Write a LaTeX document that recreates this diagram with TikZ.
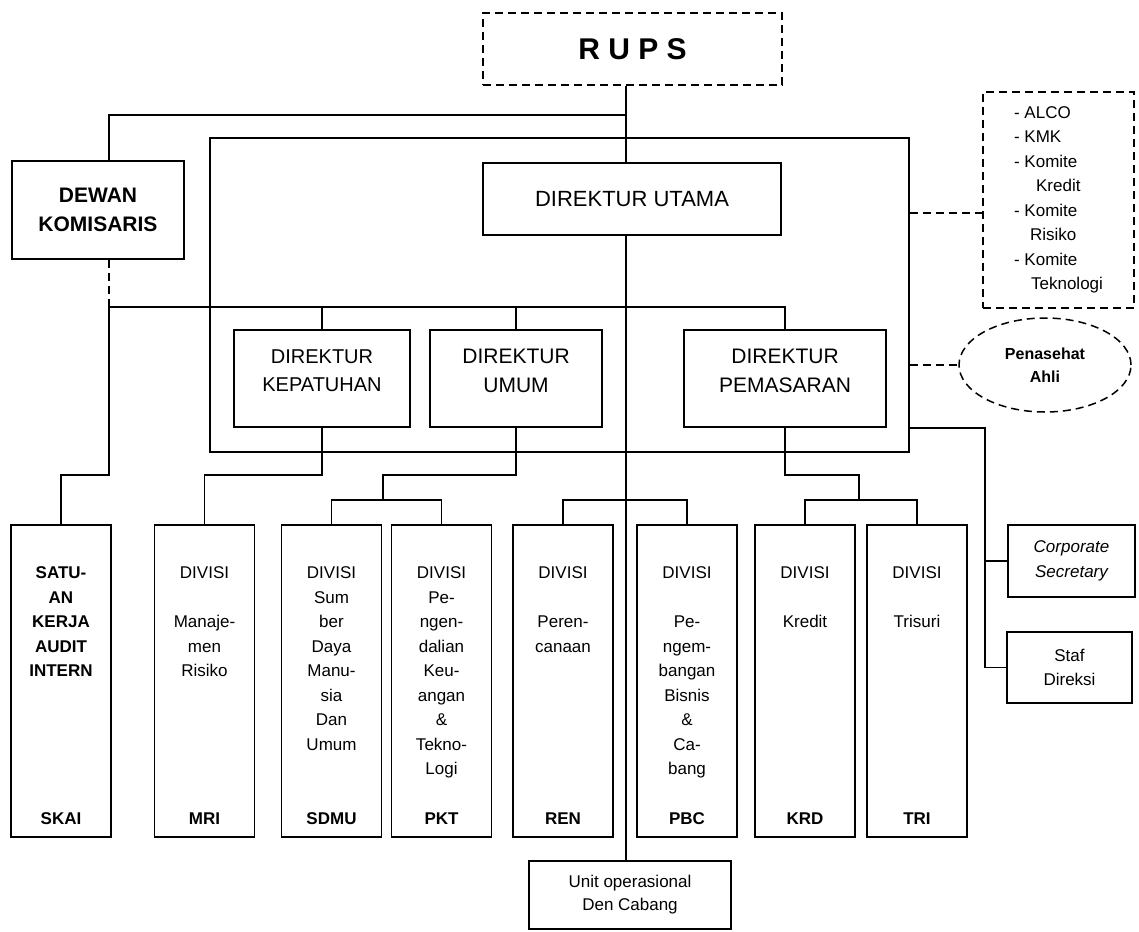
\documentclass[tikz,border=0pt]{standalone}
\usepackage{fontspec}
\setmainfont{Liberation Sans}
\usetikzlibrary{positioning, shapes.geometric}

\begin{document}
\begin{tikzpicture}[
  x=1pt, y=-1pt, line width=1.5pt,
  unitbox/.style={draw, inner sep=0pt, align=center, font=\fontsize{17}{24.5}\selectfont},
  dirbox/.style={draw, minimum height=97pt, inner sep=0pt, align=center, text depth=16pt, font=\fontsize{21}{29}\selectfont},
  divbox/.style={draw, minimum width=100pt, minimum height=312pt, inner sep=0pt},
  divtxt/.style={anchor=north, inner sep=0pt, align=center, font=\fontsize{17}{24.5}\selectfont},
  codetxt/.style={anchor=base, inner sep=0pt, font=\bfseries\fontsize{17}{20}\selectfont},
  advline/.style={dash pattern=on 8pt off 5pt}
]
  \useasboundingbox (0,0) rectangle (1139,931);

  % Top level
  \node[draw, advline, minimum width=299pt, minimum height=72pt, font=\bfseries\fontsize{30}{34}\selectfont] (rups) at (632.5,49) {R U P S};
  \node[draw, minimum width=172pt, minimum height=98pt, align=center, font=\bfseries\fontsize{21}{29}\selectfont] (dk) at (98,210) {DEWAN\\KOMISARIS};
  \node[draw, minimum width=298pt, minimum height=72pt, font=\fontsize{22}{26}\selectfont] (du) at (632,199) {DIREKTUR UTAMA};
  \node[draw, minimum width=699pt, minimum height=314pt, inner sep=0pt] (frame) at (559.5,295) {};

  % Komite and advisor
  \node[draw, advline, minimum width=151pt, minimum height=216pt, inner sep=0pt, align=left, font=\fontsize{17}{24.5}\selectfont] (kom) at (1058.5,200)
    {- ALCO\\- KMK\\- Komite\\\hspace*{22pt}Kredit\\- Komite\\\hspace*{16pt}Risiko\\- Komite\\\hspace*{17pt}Teknologi};
  \node[draw, advline, ellipse, minimum width=172pt, minimum height=94pt, inner sep=0pt, align=center, font=\bfseries\fontsize{16}{23}\selectfont] (adv) at (1045,365) {Penasehat\\Ahli};

  % Direktur
  \node[dirbox, minimum width=176pt, font=\fontsize{20}{28}\selectfont] (dkep) at (322,378.5) {DIREKTUR\\KEPATUHAN};
  \node[dirbox, minimum width=172pt] (dumum) at (516,378.5) {DIREKTUR\\UMUM};
  \node[dirbox, minimum width=202pt] (dpem) at (785,378.5) {DIREKTUR\\PEMASARAN};

  % Divisi
  \node[divbox] (skai) at (61,681) {};
  \node[divtxt, font=\bfseries\fontsize{17}{24.5}\selectfont] at ([yshift=-42pt]skai.north) {SATU-\\AN\\KERJA\\AUDIT\\INTERN};
  \node[codetxt] at ([yshift=13pt]skai.south) {SKAI};

  \node[divbox] (mri) at (204.5,681) {};
  \node[divtxt] at ([yshift=-42pt]mri.north) {DIVISI\\[24.5pt]Manaje-\\men\\Risiko};
  \node[codetxt] at ([yshift=13pt]mri.south) {MRI};

  \node[divbox] (sdmu) at (331.5,681) {};
  \node[divtxt] at ([yshift=-42pt]sdmu.north) {DIVISI\\Sum\\ber\\Daya\\Manu-\\sia\\Dan\\Umum};
  \node[codetxt] at ([yshift=13pt]sdmu.south) {SDMU};

  \node[divbox] (pkt) at (441.5,681) {};
  \node[divtxt] at ([yshift=-42pt]pkt.north) {DIVISI\\Pe-\\ngen-\\dalian\\Keu-\\angan\\\&\\Tekno-\\Logi};
  \node[codetxt] at ([yshift=13pt]pkt.south) {PKT};

  \node[divbox] (ren) at (563,681) {};
  \node[divtxt] at ([yshift=-42pt]ren.north) {DIVISI\\[24.5pt]Peren-\\canaan};
  \node[codetxt] at ([yshift=13pt]ren.south) {REN};

  \node[divbox] (pbc) at (687,681) {};
  \node[divtxt] at ([yshift=-42pt]pbc.north) {DIVISI\\[24.5pt]Pe-\\ngem-\\bangan\\Bisnis\\\&\\Ca-\\bang};
  \node[codetxt] at ([yshift=13pt]pbc.south) {PBC};

  \node[divbox] (krd) at (805,681) {};
  \node[divtxt] at ([yshift=-42pt]krd.north) {DIVISI\\[24.5pt]Kredit};
  \node[codetxt] at ([yshift=13pt]krd.south) {KRD};

  \node[divbox] (tri) at (917,681) {};
  \node[divtxt] at ([yshift=-42pt]tri.north) {DIVISI\\[24.5pt]Trisuri};
  \node[codetxt] at ([yshift=13pt]tri.south) {TRI};

  % Staf and unit
  \node[unitbox, minimum width=127pt, minimum height=72pt, font=\itshape\fontsize{17}{25}\selectfont] (corpsec) at (1071.5,561) {Corporate\\Secretary};
  \node[unitbox, minimum width=125pt, minimum height=71pt] (staf) at (1069.5,667.5) {Staf\\Direksi};
  \node[unitbox, minimum width=202pt, minimum height=68pt, font=\fontsize{17}{23}\selectfont] (unit) at (630,895) {Unit operasional\\Den Cabang};

  % Junctions
  \coordinate (jtop) at (626,115);
  \coordinate (jdk) at (109,307);
  \coordinate (jlow) at (0,475);
  \coordinate (jbr) at (0,500);
  \coordinate (jum) at (383,475);
  \coordinate (jpem) at (859,475);
  \coordinate (jcs) at (985,428);
  \coordinate (jkom) at (0,213);

  % Lines
  \draw (rups.south -| jtop) -- (du.north -| jtop);
  \draw (dk.north -| jdk) |- (jtop);
  \draw[advline] (dk.south -| jdk) -- (jdk);
  \draw (jdk) -- (dpem.north |- jdk) -- (dpem.north);
  \draw (dkep.north |- jdk) -- (dkep.north);
  \draw (dumum.north |- jdk) -- (dumum.north);
  \draw (jdk) -- (jdk |- jlow) -| (skai.north);
  \draw (dkep.south) -- (dkep.south |- jlow) -| (mri.north);
  \draw (dumum.south) |- (jum) -- (jum |- jbr);
  \draw (sdmu.north) -- (sdmu.north |- jbr) -- (pkt.north |- jbr) -- (pkt.north);
  \draw (dpem.south) |- (jpem) -- (jpem |- jbr);
  \draw (krd.north) -- (krd.north |- jbr) -- (tri.north |- jbr) -- (tri.north);
  \draw (du.south -| jtop) -- (unit.north -| jtop);
  \draw (ren.north) -- (ren.north |- jbr) -- (pbc.north |- jbr) -- (pbc.north);
  \draw (frame.east |- jcs) -- (jcs) -- (jcs |- staf.west) -- (staf.west);
  \draw (jcs |- corpsec.west) -- (corpsec.west);
  \draw[advline] (frame.east |- jkom) -- (kom.west |- jkom);
  \draw[advline] (frame.east |- adv.west) -- (adv.west);
\end{tikzpicture}
\end{document}
